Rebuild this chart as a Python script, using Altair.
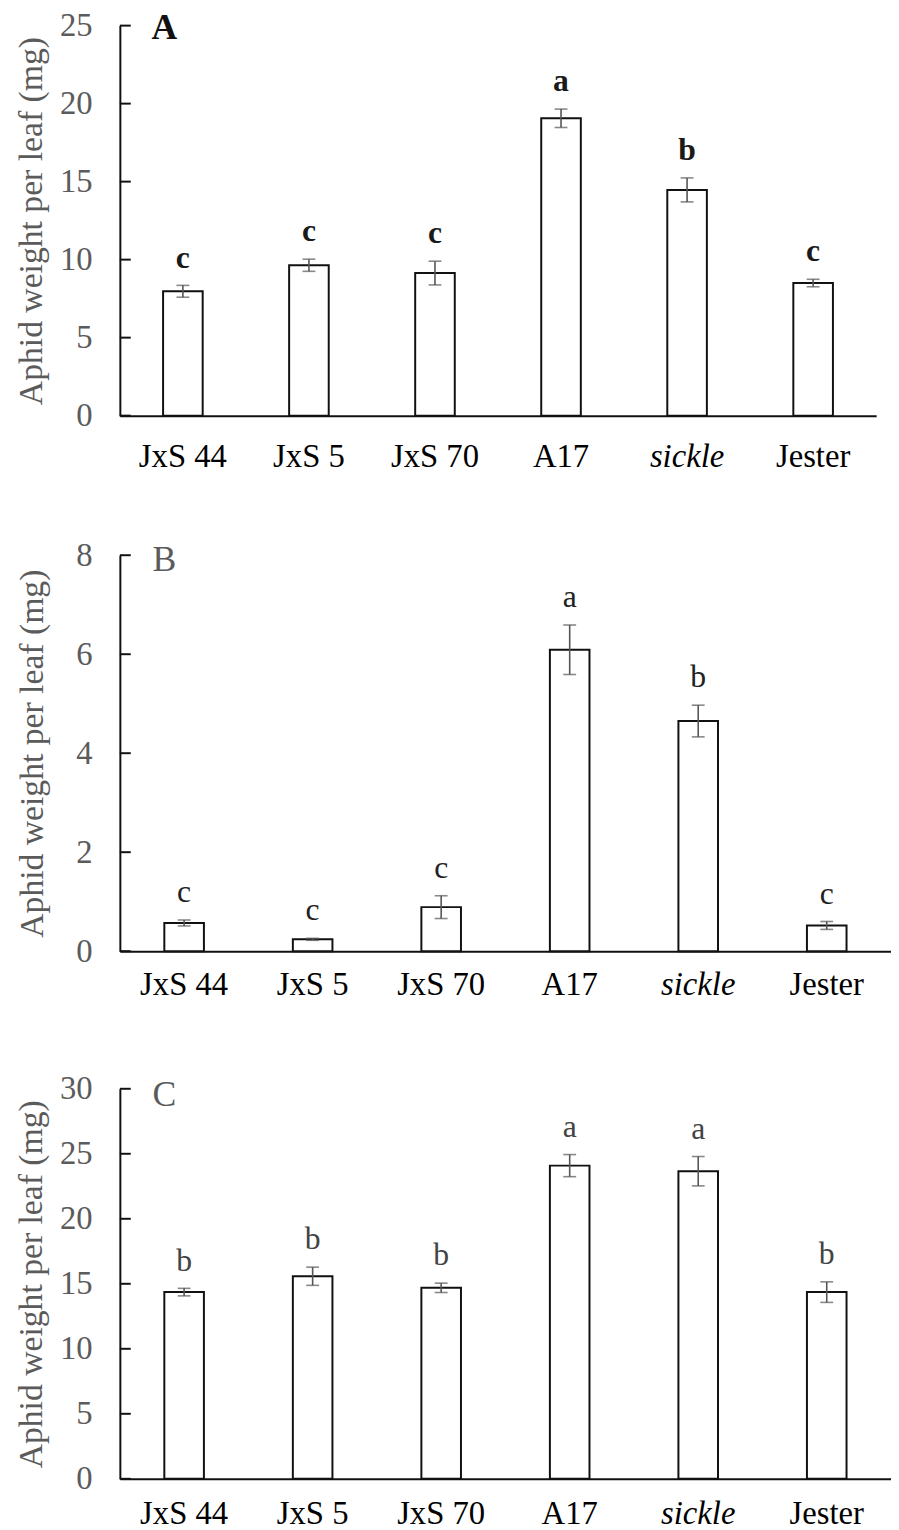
import altair as alt
import pandas as pd

categories = ["JxS 44", "JxS 5", "JxS 70", "A17", "sickle", "Jester"]

a_means = [7.97, 9.64, 9.14, 19.06, 14.47, 8.50]
a_errs = [0.38, 0.39, 0.76, 0.59, 0.77, 0.24]
a_letters = ["c", "c", "c", "a", "b", "c"]

b_means = [0.57, 0.24, 0.89, 6.09, 4.65, 0.52]
b_errs = [0.06, 0.02, 0.23, 0.50, 0.32, 0.08]
b_letters = ["c", "c", "c", "a", "b", "c"]

c_means = [14.36, 15.58, 14.69, 24.09, 23.66, 14.36]
c_errs = [0.29, 0.70, 0.36, 0.85, 1.13, 0.79]
c_letters = ["b", "b", "b", "a", "a", "b"]

a_ticks = [0, 5, 10, 15, 20, 25]
b_ticks = [0, 2, 4, 6, 8]
c_ticks = [0, 5, 10, 15, 20, 25, 30]

FONT = "Liberation Serif"
GREY = "#5b5b5b"
INK = "#111111"
ERR = "#555555"
YTITLE = "Aphid weight per leaf (mg)"


def panel(means, errs, letters, ticks, tag, tag_color, tag_weight,
          letter_color, letter_weight, width, height, xpad, tpad, tag_y):
    df = pd.DataFrame({
        "cat": categories,
        "mean": means,
        "lo": [m - e for m, e in zip(means, errs)],
        "hi": [m + e for m, e in zip(means, errs)],
        "letter": letters,
    })
    tdf = pd.DataFrame({"v": ticks})
    ymax = ticks[-1]
    yscale = alt.Scale(domain=[0, ymax], nice=False, zero=True)
    xscale = alt.Scale(paddingInner=0, paddingOuter=0)

    xaxis = alt.Axis(
        title=None, labelAngle=0, ticks=False, tickSize=0,
        domainColor=INK, domainWidth=2, labelFont=FONT, labelFontSize=33,
        labelColor="#000000", labelPadding=xpad,
        labelFontStyle={"condition": {"test": "datum.value === 'sickle'", "value": "italic"},
                        "value": "normal"},
    )
    yaxis = alt.Axis(
        title=YTITLE, values=ticks, ticks=False, tickSize=0, grid=False,
        domainColor=INK, domainWidth=2, labelFont=FONT, labelFontSize=33,
        labelColor=GREY, labelPadding=28, titleFont=FONT, titleFontSize=34,
        titleFontWeight="normal", titleColor=GREY, titlePadding=tpad,
    )

    def X():
        return alt.X("cat:N", sort=categories, scale=xscale, axis=xaxis)

    def Y(f):
        return alt.Y(f, scale=yscale, axis=yaxis)

    base = alt.Chart(df)
    bars = base.mark_bar(size=40, fill="white", stroke=INK, strokeWidth=2).encode(
        x=X(), y=Y("mean:Q"))
    rules = base.mark_rule(color=ERR, strokeWidth=1.6).encode(
        x=X(), y=Y("lo:Q"), y2="hi:Q")
    cap_lo = base.mark_tick(color=ERR, size=13, thickness=1.6, orient="horizontal").encode(
        x=X(), y=Y("lo:Q"))
    cap_hi = base.mark_tick(color=ERR, size=13, thickness=1.6, orient="horizontal").encode(
        x=X(), y=Y("hi:Q"))
    text = base.mark_text(font=FONT, fontSize=32, fontWeight=letter_weight,
                          color=letter_color, baseline="alphabetic", dy=-18).encode(
        x=X(), y=Y("hi:Q"), text="letter:N")
    tick_rules = alt.Chart(tdf).mark_rule(color=INK, strokeWidth=2).encode(
        y=Y("v:Q"), x=alt.value(0), x2=alt.value(11))
    tag_mark = alt.Chart(pd.DataFrame({"t": [tag]})).mark_text(
        font=FONT, fontSize=36, fontWeight=tag_weight, color=tag_color,
        baseline="middle", align="center").encode(
        text="t:N", x=alt.value(45), y=alt.value(tag_y))

    return alt.layer(bars, rules, cap_lo, cap_hi, text, tick_rules, tag_mark).properties(
        width=width, height=height)


pa = panel(a_means, a_errs, a_letters, a_ticks, "A", INK, "bold", "#1a1a1a", "bold",
           764, 394, 25, 11, 3)
pb = panel(b_means, b_errs, b_letters, b_ticks, "B", GREY, "normal", "#222222", "normal",
           779, 400, 18, 27, 5)
pc = panel(c_means, c_errs, c_letters, c_ticks, "C", GREY, "normal", "#444444", "normal",
           779, 394, 19, 11, 6)

top = alt.vconcat(pa, pb, spacing=67)
chart = alt.vconcat(top, pc, spacing=72).properties(
    padding={"left": 7, "top": -6, "right": 0, "bottom": 0}
).configure(font=FONT).configure_axis(
    labelFont=FONT, titleFont=FONT
).configure_view(stroke=None)

chart.save("out.html", embed_options={"renderer": "svg", "actions": False})
